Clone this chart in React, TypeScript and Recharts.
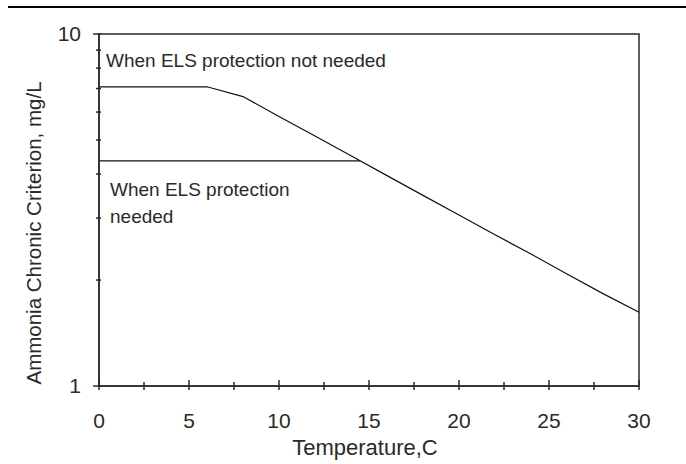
import React from 'react'
import { LineChart, Line, XAxis, YAxis, ReferenceArea } from 'recharts'

const WIDTH = 686
const HEIGHT = 464
const INK = '#2a2a2a'
const FONT = '"Liberation Sans", Arial, sans-serif'

// temperature (C) and criterion (mg/L)
const tempNoEls = [0, 2, 4, 6, 8, 10, 12, 14, 16, 18, 20, 22, 24, 26, 28, 30]
const critNoEls = [7.08, 7.08, 7.08, 7.08, 6.64, 5.83, 5.13, 4.51, 3.96, 3.48, 3.06, 2.69, 2.37, 2.08, 1.83, 1.62]
const tempEls = [0, 14.5]
const critEls = [4.36, 4.36]

const xTicks = [0, 2.5, 5, 7.5, 10, 12.5, 15, 17.5, 20, 22.5, 25, 27.5, 30]
const yTicks = [1, 2, 3, 4, 5, 6, 7, 8, 9, 10]
const yLabelled = [1, 10]

const noEls = tempNoEls.map((t, i) => ({ t, c: critNoEls[i] }))
const els = tempEls.map((t, i) => ({ t, c: critEls[i] }))

const XTick = (props: any) => {
  const { x, y, payload } = props
  const major = payload.value % 5 === 0
  return (
    <g>
      <line x1={x} x2={x} y1={y - (major ? 6 : 4)} y2={y + 4} stroke={INK} strokeWidth={1.5} />
      {major && (
        <text x={x} y={y + 42} textAnchor="middle" fontSize={21} fill={INK} fontFamily={FONT}>
          {payload.value}
        </text>
      )}
    </g>
  )
}

const YTick = (props: any) => {
  const { x, y, payload } = props
  const labelled = yLabelled.includes(payload.value)
  return (
    <g>
      <line x1={x - (labelled ? 6 : 3)} x2={x + 2} y1={y} y2={y} stroke={INK} strokeWidth={1.5} />
      {labelled && (
        <text x={x - 18} y={y + 7} textAnchor="end" fontSize={21} fill={INK} fontFamily={FONT}>
          {payload.value}
        </text>
      )}
    </g>
  )
}

const App = () => {
  return (
    <div style={{ position: 'absolute', left: 0, top: 0 }}>
      <LineChart
        width={WIDTH}
        height={HEIGHT}
        margin={{ top: 34, right: 47, bottom: 0, left: 0 }}
      >
        <line x1={8} x2={686} y1={7} y2={7} stroke="#000" strokeWidth={2} />
        <XAxis
          type="number"
          dataKey="t"
          domain={[0, 30]}
          ticks={xTicks}
          height={78}
          tickSize={0}
          tickMargin={0}
          tickLine={false}
          axisLine={{ stroke: INK, strokeWidth: 1.5 }}
          tick={<XTick />}
          interval={0}
          allowDuplicatedCategory={false}
        />
        <YAxis
          type="number"
          dataKey="c"
          scale="log"
          domain={[1, 10]}
          ticks={yTicks}
          width={99}
          tickSize={0}
          tickMargin={0}
          tickLine={false}
          axisLine={{ stroke: INK, strokeWidth: 1.5 }}
          tick={<YTick />}
          interval={0}
          allowDataOverflow
        />
        <ReferenceArea x1={0} x2={30} y1={1} y2={10} fill="none" stroke={INK} strokeWidth={1.5} />
        <Line
          data={noEls}
          dataKey="c"
          type="linear"
          stroke="#111"
          strokeWidth={1.2}
          dot={false}
          isAnimationActive={false}
        />
        <Line
          data={els}
          dataKey="c"
          type="linear"
          stroke="#111"
          strokeWidth={1.2}
          dot={false}
          isAnimationActive={false}
        />
        <text x={106} y={67} fontSize={19} fill={INK} fontFamily={FONT}>
          When ELS protection not needed
        </text>
        <text x={110} y={196} fontSize={19} fill={INK} fontFamily={FONT}>
          When ELS protection
        </text>
        <text x={110} y={223} fontSize={19} fill={INK} fontFamily={FONT}>
          needed
        </text>
        <text x={365} y={455} textAnchor="middle" fontSize={22} fill={INK} fontFamily={FONT}>
          Temperature,C
        </text>
        <text
          x={41}
          y={233}
          textAnchor="middle"
          transform="rotate(-90, 41, 233)"
          fontSize={20.5}
          fill={INK}
          fontFamily={FONT}
        >
          Ammonia Chronic Criterion, mg/L
        </text>
      </LineChart>
    </div>
  )
}

export default App
